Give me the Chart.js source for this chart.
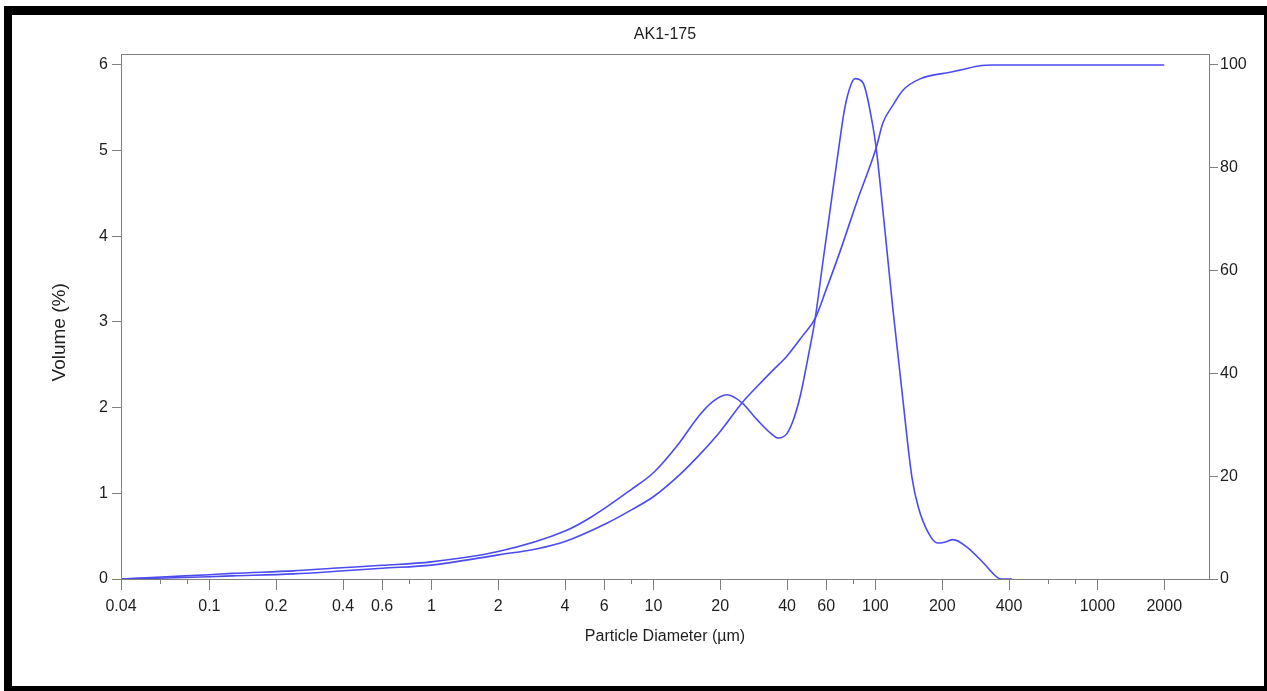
<!DOCTYPE html>
<html>
<head>
<meta charset="utf-8">
<title>AK1-175</title>
<script src="https://cdn.jsdelivr.net/npm/chart.js@4.4.1/dist/chart.umd.min.js"></script>
<style>
  html, body { margin: 0; padding: 0; background: #fff; }
  #frame {
    position: absolute; left: 4px; top: 6px;
    width: 1252px; height: 671px;
    border-style: solid; border-color: #000;
    border-width: 9px 3px 5px 8px;
    background: #fff;
  }
  canvas { display: block; }
</style>
</head>
<body>
<div id="frame"><canvas id="psd" width="1252" height="671"></canvas></div>
<script>
// particle size distribution
const freqSize   = [0.04, 0.064, 0.1, 0.127, 0.24, 0.36, 0.6, 1, 2, 4, 5.3, 8, 10, 13, 16, 18.5, 21.4, 25, 29.3, 33.8, 36.5, 40, 43, 46, 50, 53.4, 58, 62.3, 67.7, 72.8, 77.6, 81, 88, 97.5, 100.7, 108, 120, 132, 146, 156, 173, 190, 205, 224, 259, 306, 354, 370, 413];
const freqVolume = [0, 0.027, 0.05, 0.066, 0.095, 0.125, 0.16, 0.2, 0.32, 0.56, 0.73, 1.05, 1.24, 1.58, 1.9, 2.07, 2.15, 2.06, 1.86, 1.70, 1.645, 1.70, 1.88, 2.15, 2.62, 3.02, 3.70, 4.28, 4.95, 5.50, 5.77, 5.84, 5.79, 5.28, 5.04, 4.31, 3.14, 2.17, 1.19, 0.84, 0.54, 0.42, 0.43, 0.46, 0.37, 0.19, 0.02, 0, 0];

const cumSize    = [0.04, 0.064, 0.1, 0.127, 0.24, 0.36, 0.6, 1, 2, 3, 4, 6.2, 8, 10, 13, 16, 20, 25, 30, 34.5, 40, 47, 53.4, 60, 69, 83, 101, 108, 120, 133, 159, 217, 240, 300, 340, 2000];
const cumPercent = [0, 0.2, 0.45, 0.6, 1.0, 1.45, 2.1, 2.7, 4.7, 5.9, 7.3, 10.9, 13.5, 16.0, 20.1, 24.0, 28.7, 34.2, 37.9, 40.6, 43.4, 47.3, 50.6, 56.3, 63.5, 73.7, 84, 88.7, 92.2, 95.1, 97.3, 98.6, 99.0, 99.9, 100, 100];

const xTickValues = [0.04, 0.1, 0.2, 0.4, 0.6, 1, 2, 4, 6, 10, 20, 40, 60, 100, 200, 400, 1000, 2000];
const xTickLabels = ['0.04', '0.1', '0.2', '0.4', '0.6', '1', '2', '4', '6', '10', '20', '40', '60', '100', '200', '400', '1000', '2000'];
const xMinorTicks = [0.06, 0.08, 0.8, 8, 80, 600, 800];
const volumeTicks = [0, 1, 2, 3, 4, 5, 6];
const percentTicks = [0, 20, 40, 60, 80, 100];

const lineBlue = '#4b4bf0';
const axisGray = '#808080';
const textColor = '#1e1e1e';
const fontFamily = "Arial, 'Liberation Sans', sans-serif";

const toPoints = (xs, ys) => xs.map((x, i) => ({ x: x, y: ys[i] }));

// draws the box around the plot area (top edge has no axis)
const plotBox = {
  id: 'plotBox',
  afterDraw(chart) {
    const a = chart.chartArea;
    const ctx = chart.ctx;
    ctx.save();
    ctx.strokeStyle = axisGray;
    ctx.lineWidth = 1;
    ctx.strokeRect(Math.round(a.left) + 0.5, Math.round(a.top) + 0.5,
      Math.round(a.right - a.left), Math.round(a.bottom - a.top));
    ctx.restore();
  }
};

new Chart(document.getElementById('psd'), {
  type: 'line',
  data: {
    datasets: [
      {
        label: 'Volume',
        data: toPoints(freqSize, freqVolume),
        yAxisID: 'y',
        borderColor: lineBlue,
        borderWidth: 1.6,
        pointRadius: 0,
        fill: false,
        cubicInterpolationMode: 'monotone'
      },
      {
        label: 'Cumulative',
        data: toPoints(cumSize, cumPercent),
        yAxisID: 'y1',
        borderColor: lineBlue,
        borderWidth: 1.6,
        pointRadius: 0,
        fill: false,
        cubicInterpolationMode: 'monotone'
      }
    ]
  },
  options: {
    responsive: false,
    animation: false,
    layout: { padding: 0 },
    plugins: {
      legend: { display: false },
      tooltip: { enabled: false },
      title: {
        display: true,
        text: 'AK1-175',
        fullSize: false,
        color: textColor,
        font: { family: fontFamily, size: 16, weight: 'normal' },
        padding: { top: 10, bottom: 9.8 }
      }
    },
    scales: {
      xMinor: {
        type: 'logarithmic',
        position: 'bottom',
        weight: 0,
        min: 0.04,
        max: 3181,
        afterBuildTicks: s => { s.ticks = xMinorTicks.map(v => ({ value: v })); },
        afterFit: s => { s.height = 0; },
        ticks: { display: false },
        grid: { drawOnChartArea: false, drawTicks: true, tickLength: 5, color: axisGray },
        border: { display: false }
      },
      x: {
        type: 'logarithmic',
        position: 'bottom',
        weight: 1,
        min: 0.04,
        max: 3181,
        afterBuildTicks: s => { s.ticks = xTickValues.map(v => ({ value: v })); },
        afterFit: s => { s.height = 107; },
        ticks: {
          autoSkip: false,
          maxRotation: 0,
          padding: 7,
          color: textColor,
          font: { family: fontFamily, size: 16 },
          callback: (v, i) => xTickLabels[i]
        },
        grid: { drawOnChartArea: false, drawTicks: true, tickLength: 11, color: axisGray },
        border: { display: false },
        title: {
          display: true,
          text: 'Particle Diameter (µm)',
          color: textColor,
          font: { family: fontFamily, size: 16 },
          padding: { top: 0, bottom: 40 }
        }
      },
      y: {
        type: 'linear',
        position: 'left',
        min: 0,
        max: 6.128,
        afterBuildTicks: s => { s.ticks = volumeTicks.map(v => ({ value: v })); },
        afterFit: s => { s.width = 109; },
        ticks: {
          padding: 4,
          color: textColor,
          font: { family: fontFamily, size: 16 },
          callback: v => String(v)
        },
        grid: { drawOnChartArea: false, drawTicks: true, tickLength: 9, color: axisGray },
        border: { display: false },
        title: {
          display: true,
          text: 'Volume (%)      ',
          color: textColor,
          font: { family: fontFamily, size: 19 },
          padding: { top: 36.6, bottom: 0 }
        }
      },
      y1: {
        type: 'linear',
        position: 'right',
        min: 0,
        max: 102.14,
        afterBuildTicks: s => { s.ticks = percentTicks.map(v => ({ value: v })); },
        afterFit: s => { s.width = 55; },
        ticks: {
          padding: 2,
          color: textColor,
          font: { family: fontFamily, size: 16 },
          callback: v => String(v)
        },
        grid: { drawOnChartArea: false, drawTicks: true, tickLength: 9, color: axisGray },
        border: { display: false }
      }
    }
  },
  plugins: [plotBox]
});
</script>
</body>
</html>
